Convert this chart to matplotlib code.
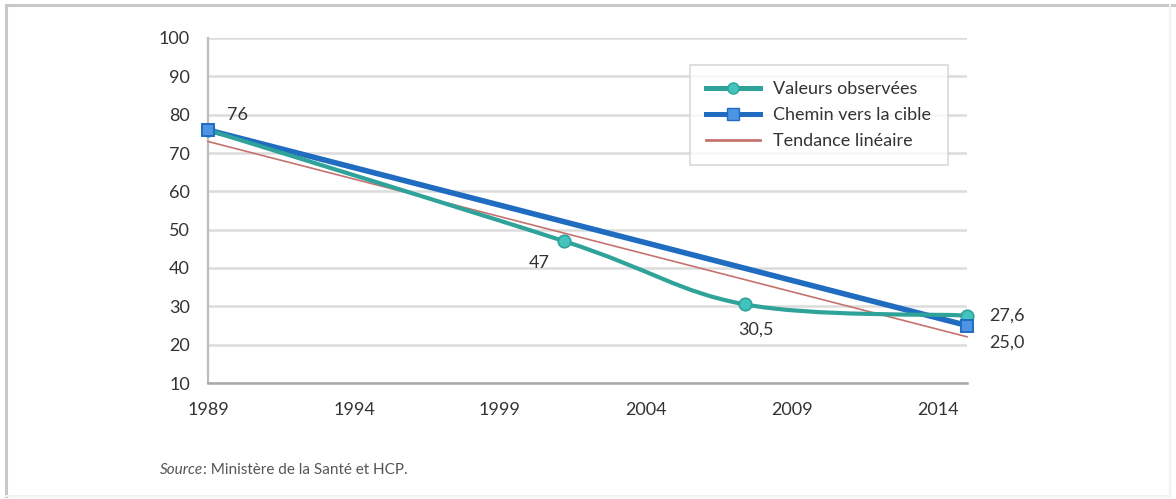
import numpy as np
import matplotlib
matplotlib.use("Agg")
import matplotlib.pyplot as plt
from matplotlib.path import Path
from matplotlib.patches import PathPatch
from matplotlib.lines import Line2D

plt.rcParams['font.family'] = ['Lato', 'DejaVu Sans']

# ---- data ----
obs_years = [1989, 2001.2, 2007.4, 2015]
obs_values = [76, 47, 30.5, 27.6]
obs_labels = ["", "47", "30,5", "27,6"]
target_years = [1989, 2015]
target_values = [76, 25.0]
target_labels = ["76", "25,0"]
xticks = [1989, 1994, 1999, 2004, 2009, 2014]
yticks = [10, 20, 30, 40, 50, 60, 70, 80, 90, 100]
series_names = ["Valeurs observées", "Chemin vers la cible", "Tendance linéaire"]
source_italic = "Source"
source_rest = ": Ministère de la Santé et HCP."

TEAL = "#2fa39a"
TEAL_FILL = "#43c3bd"
BLUE = "#1f6cc1"
BLUE_FILL = "#4d95e3"
RED = "#c4736f"
TXT = "#333333"
FS = 13

W, H = 1176, 499
fig = plt.figure(figsize=(W / 100, H / 100), dpi=100)

# outer frame
fig.add_artist(Line2D([6 / W, 1.0], [1 - 5 / H, 1 - 5 / H], transform=fig.transFigure, color="#c8c8c8", lw=2.2))
fig.add_artist(Line2D([6 / W, 6 / W], [1 - 5 / H, 3 / H], transform=fig.transFigure, color="#c8c8c8", lw=2.2))
fig.add_artist(Line2D([1170 / W, 1170 / W], [1 - 5 / H, 3 / H], transform=fig.transFigure, color="#f2f2f2", lw=1.5))
fig.add_artist(Line2D([6 / W, 1170 / W], [3 / H, 3 / H], transform=fig.transFigure, color="#f2f2f2", lw=1.5))

left, right, top, bottom = 208, 967, 38, 383
ax = fig.add_axes([left / W, 1 - bottom / H, (right - left) / W, (bottom - top) / H])
ax.set_xlim(1989, 2015)
ax.set_ylim(10, 100)
ax.set_xticks(xticks)
ax.set_yticks(yticks)
ax.set_xticklabels([str(t) for t in xticks])
ax.set_yticklabels([str(t) for t in yticks])
ax.tick_params(axis='both', length=0, labelsize=FS, colors=TXT)
ax.tick_params(axis='y', pad=13)
ax.tick_params(axis='x', pad=14)
for s in ["top", "right"]:
    ax.spines[s].set_visible(False)
ax.spines["left"].set_color("#bdbdbd")
ax.spines["left"].set_linewidth(1.6)
ax.spines["bottom"].set_color("#a8a8a8")
ax.spines["bottom"].set_linewidth(1.8)
ax.yaxis.grid(True, color="#dcdcdc", lw=1.8)
ax.set_axisbelow(True)

# linear trend of observed values
coef = np.polyfit(obs_years, obs_values, 1)
tx = np.array([obs_years[0], obs_years[-1]])
ax.plot(tx, np.polyval(coef, tx), color=RED, lw=1.2, zorder=3, clip_on=False)

# target path
ax.plot(target_years, target_values, color=BLUE, lw=4.0, zorder=4, solid_capstyle='round', clip_on=False)

# observed values: smoothed (Catmull-Rom style bezier) line through the points
pts = np.column_stack([obs_years, obs_values]).astype(float)
verts = [tuple(pts[0])]
codes = [Path.MOVETO]
n = len(pts)
for i in range(n - 1):
    p0 = pts[i - 1] if i > 0 else pts[i]
    p1 = pts[i]
    p2 = pts[i + 1]
    p3 = pts[i + 2] if i + 2 < n else pts[i + 1]
    c1 = p1 + (p2 - p0) / 6.0
    c2 = p2 - (p3 - p1) / 6.0
    verts += [tuple(c1), tuple(c2), tuple(p2)]
    codes += [Path.CURVE4] * 3
ax.add_patch(PathPatch(Path(verts, codes), facecolor="none", edgecolor=TEAL, lw=3.0, zorder=5, clip_on=False))
ax.plot(obs_years, obs_values, ls="none", marker="o", ms=9, mfc=TEAL_FILL, mec=TEAL, mew=1.2, zorder=6, clip_on=False)
ax.plot(target_years, target_values, ls="none", marker="s", ms=9, mfc=BLUE_FILL, mec=BLUE, mew=1.4, zorder=7, clip_on=False)

# data labels
lab_kw = dict(textcoords="offset points", fontsize=FS, color=TXT, va="center")
offs_obs = [(0, 0), (-18, -16), (8, -18), (16, 0)]
has = ["center", "center", "center", "left"]
for x, y, t, o, ha in zip(obs_years, obs_values, obs_labels, offs_obs, has):
    if t:
        ax.annotate(t, (x, y), xytext=o, ha=ha, **lab_kw)
offs_tgt = [(14, 11), (16, -12)]
for x, y, t, o in zip(target_years, target_values, target_labels, offs_tgt):
    ax.annotate(t, (x, y), xytext=o, ha="left", **lab_kw)

# legend
handles = [
    Line2D([], [], color=TEAL, lw=3.6, marker="o", ms=8, mfc=TEAL_FILL, mec=TEAL),
    Line2D([], [], color=BLUE, lw=3.6, marker="s", ms=8, mfc=BLUE_FILL, mec=BLUE),
    Line2D([], [], color=RED, lw=2.0),
]
leg = fig.legend(handles, series_names, loc="upper left", bbox_to_anchor=(690 / W, 1 - 65 / H),
                 bbox_transform=fig.transFigure, borderaxespad=0, fontsize=FS, frameon=True,
                 fancybox=False, edgecolor="#cfcfcf", handlelength=3.0, handletextpad=0.72,
                 labelspacing=0.55, borderpad=0.9)
leg.get_frame().set_linewidth(1.2)
for t in leg.get_texts():
    t.set_color(TXT)

# source
t1 = fig.text(160 / W, 1 - 470 / H, source_italic, fontsize=11, style="italic", color="#555555", va="center")
ax.annotate(source_rest, xy=(1, 0.5), xycoords=t1, fontsize=11, color="#555555", va="center", ha="left",
            annotation_clip=False)

fig.savefig("out.png", dpi=100, facecolor="white")
